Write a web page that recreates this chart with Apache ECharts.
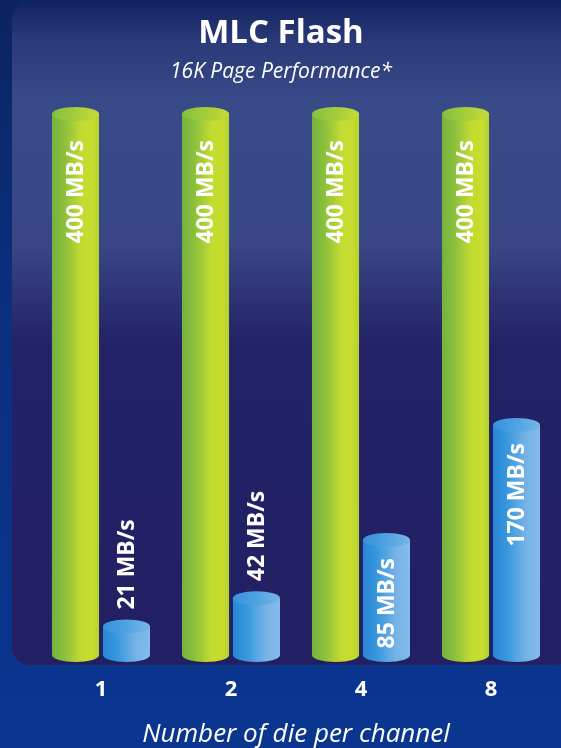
<!DOCTYPE html>
<html>
<head>
<meta charset="utf-8">
<title>MLC Flash</title>
<script src="https://cdn.jsdelivr.net/npm/echarts@6/dist/echarts.min.js"></script>
<style>
  html, body { margin: 0; padding: 0; background: #0a2f84; }
  #chart { width: 561px; height: 748px; }
</style>
</head>
<body>
<div id="chart"></div>
<script>
// Die counts per channel (x categories)
const dieCounts = ['1', '2', '4', '8'];
// Interface throughput, MB/s (green cylinders)
const interfaceRate = [400, 400, 400, 400];
// Array program throughput, MB/s (blue cylinders)
const arrayRate = [21, 42, 85, 170];
const unit = ' MB/s';

const FONT = '"Open Sans", "Noto Sans", sans-serif';

const greenBody = new echarts.graphic.LinearGradient(0, 0, 1, 0, [
  { offset: 0, color: '#74b23f' },
  { offset: 0.3, color: '#8fc23b' },
  { offset: 0.62, color: '#c3db30' },
  { offset: 0.85, color: '#c8dc2e' },
  { offset: 1, color: '#b2d232' }
]);
const greenCap = new echarts.graphic.LinearGradient(0, 0, 1, 0, [
  { offset: 0, color: '#86bf3e' },
  { offset: 0.5, color: '#a4cd3a' },
  { offset: 1, color: '#c4dc38' }
]);
const blueBody = new echarts.graphic.LinearGradient(0, 0, 1, 0, [
  { offset: 0, color: '#2886d3' },
  { offset: 0.3, color: '#3798de' },
  { offset: 0.7, color: '#76b3e6' },
  { offset: 1, color: '#84bbe9' }
]);
const blueCap = new echarts.graphic.LinearGradient(0, 0, 1, 0, [
  { offset: 0, color: '#3593dc' },
  { offset: 0.5, color: '#4fa3e2' },
  { offset: 1, color: '#78b5e6' }
]);

// Draws one cylinder per data item, positioned inside the category band.
function cylinderRenderer(bodyFill, capFill, offsetFrac, textTopGap) {
  return function (params, api) {
    const idx = api.value(0);
    const val = api.value(1);
    const top = api.coord([idx, val]);
    const base = api.coord([idx, 0]);
    const band = api.size([1, 0])[0];
    const w = band * 0.362;
    const cx = top[0] + band * offsetFrac;
    const ry = 7;
    const h = base[1] - top[1];
    const label = val + unit;
    const inside = h > 100;
    const font = 'bold 23px ' + FONT;
    const text = inside
      ? { type: 'text', x: cx + 1, y: top[1] + textTopGap, rotation: Math.PI / 2,
          style: { text: label, fill: '#ffffff', font: font,
                   align: 'right', verticalAlign: 'middle' }, z2: 10 }
      : { type: 'text', x: cx + 1, y: top[1] - ry - 10, rotation: Math.PI / 2,
          style: { text: label, fill: '#ffffff', font: font,
                   align: 'left', verticalAlign: 'middle' }, z2: 10 };
    return {
      type: 'group',
      children: [
        { type: 'ellipse', shape: { cx: cx, cy: base[1], rx: w / 2, ry: ry },
          style: { fill: bodyFill } },
        { type: 'rect', shape: { x: cx - w / 2, y: top[1], width: w, height: h },
          style: { fill: bodyFill } },
        { type: 'ellipse', shape: { cx: cx, cy: top[1], rx: w / 2, ry: ry },
          style: { fill: capFill } },
        text
      ]
    };
  };
}

const chart = echarts.init(document.getElementById('chart'), null, { renderer: 'canvas' });

chart.setOption({
  backgroundColor: new echarts.graphic.LinearGradient(0, 0, 0, 1, [
    { offset: 0, color: '#0b2460' },
    { offset: 0.4, color: '#0a2f80' },
    { offset: 1, color: '#0a3690' }
  ]),
  graphic: [{
    type: 'rect',
    z: -10,
    shape: { x: 12, y: 2, width: 560, height: 663, r: 18 },
    style: {
      fill: new echarts.graphic.LinearGradient(0, 0, 0, 1, [
        { offset: 0, color: '#122460' },
        { offset: 0.06, color: '#2b3a78' },
        { offset: 0.15, color: '#394a88' },
        { offset: 0.37, color: '#384685' },
        { offset: 0.46, color: '#2b2f70' },
        { offset: 0.52, color: '#232267' },
        { offset: 1, color: '#231f63' }
      ])
    }
  }],
  title: {
    text: 'MLC Flash',
    subtext: '16K Page Performance*',
    left: 276,
    textAlign: 'center',
    top: 12,
    itemGap: 12,
    textStyle: { color: '#ffffff', fontFamily: FONT, fontWeight: 'bold', fontSize: 33 },
    subtextStyle: { color: '#ffffff', fontFamily: FONT, fontStyle: 'italic', fontSize: 21 }
  },
  grid: { left: 36, right: 5, top: 114, bottom: 93, outerBoundsMode: 'none', containLabel: false },
  xAxis: {
    type: 'category',
    data: dieCounts,
    axisLine: { show: false },
    axisTick: { show: false },
    axisLabel: { color: '#ffffff', fontFamily: FONT, fontWeight: 'bold', fontSize: 22, margin: 24 },
    name: 'Number of die per channel',
    nameLocation: 'middle',
    nameGap: 67,
    nameTextStyle: { color: '#ffffff', fontFamily: FONT, fontStyle: 'italic', fontSize: 26 }
  },
  yAxis: {
    type: 'value',
    min: 0,
    max: 400,
    show: false,
    splitLine: { show: false }
  },
  series: [
    {
      name: 'Interface',
      type: 'custom',
      renderItem: cylinderRenderer(greenBody, greenCap, -0.196, 26),
      encode: { x: 0, y: 1 },
      data: interfaceRate.map((v, i) => [i, v])
    },
    {
      name: 'Array',
      type: 'custom',
      renderItem: cylinderRenderer(blueBody, blueCap, 0.196, 18),
      encode: { x: 0, y: 1 },
      data: arrayRate.map((v, i) => [i, v])
    }
  ]
});
</script>
</body>
</html>
